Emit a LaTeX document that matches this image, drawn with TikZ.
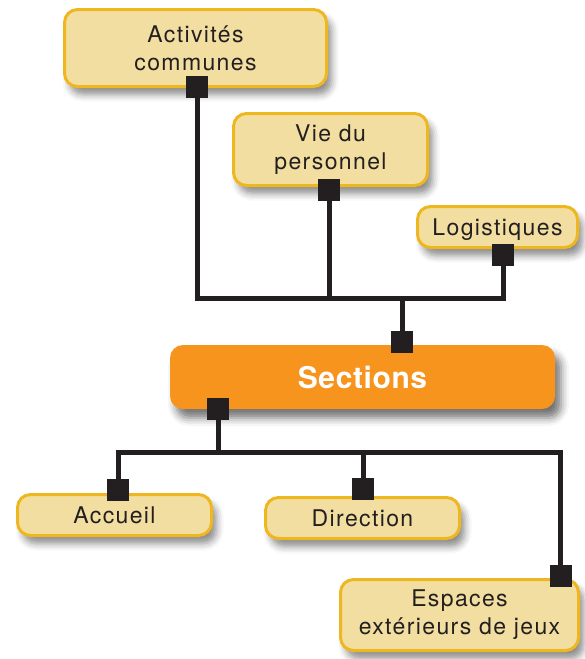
\documentclass[tikz,border=0pt]{standalone}
\usepackage{fontspec}
\setmainfont{TeX Gyre Heros}[LetterSpace=6]
\usetikzlibrary{shadows.blur}
\definecolor{boxtan}{RGB}{242,222,160}
\definecolor{boxgold}{RGB}{238,183,32}
\definecolor{secorange}{RGB}{247,148,30}
\definecolor{linkblack}{RGB}{35,31,32}

\begin{document}
\begin{tikzpicture}[
  x=1pt, y=-1pt,
  box/.style={
    draw=boxgold, line width=3pt, fill=boxtan, rounded corners=13pt,
    inner sep=0pt, align=center, text=linkblack,
    font=\fontsize{23}{28}\selectfont,
    blur shadow={shadow xshift=5pt, shadow yshift=-8pt,
                 shadow blur radius=7pt, shadow opacity=45}
  },
  secbox/.style={
    fill=secorange, rounded corners=13pt, inner sep=0pt,
    text=white, font=\fontsize{30}{34}\selectfont\bfseries\addfontfeature{LetterSpace=2},
    blur shadow={shadow xshift=6pt, shadow yshift=-9pt,
                 shadow blur radius=8pt, shadow opacity=55}
  },
  knob/.style={fill=linkblack, minimum size=22pt, inner sep=0pt},
  link/.style={draw=linkblack, line width=5pt},
]
\useasboundingbox (0,0) rectangle (585,659);

% upper boxes
\node[box, minimum width=262pt, minimum height=77pt] (act)  at (195.5,48)  {Activités\\communes};
\node[box, minimum width=194pt, minimum height=72pt] (vie)  at (330.5,149.5) {Vie du\\personnel};
\node[box, minimum width=160pt, minimum height=41pt, text depth=0pt] (logi) at (497.5,227)  {Logistiques};

% central box
\node[secbox, minimum width=385pt, minimum height=64pt] (sec) at (362.5,377) {Sections};

% lower boxes
\node[box, minimum width=194pt, minimum height=41pt] (acc) at (114.5,515) {Accueil};
\node[box, minimum width=194pt, minimum height=41pt] (dir) at (362.5,518) {Direction};
\node[box, minimum width=238pt, minimum height=71pt] (esp) at (459.5,615) {Espaces\\extérieurs de jeux};

% connector squares
\node[knob] (sqAct)  at (197,87)    {};
\node[knob] (sqVie)  at (329,190)   {};
\node[knob] (sqLogi) at (503,255)   {};
\node[knob] (sqSecT) at (402,342)   {};
\node[knob] (sqSecB) at (218,409)   {};
\node[knob] (sqAcc)  at (118,490)   {};
\node[knob] (sqDir)  at (363,489)   {};
\node[knob] (sqEsp)  at (560.5,576) {};

\coordinate (topbus) at (402,298);
\coordinate (botbus) at (218,452);

% links
\draw[link] (sqAct) |- (topbus) -| (sqLogi);
\draw[link] (sqVie) -- (sqVie |- topbus);
\draw[link] (topbus) -- (sqSecT);

\draw[link] (sqSecB) -- (botbus);
\draw[link] (sqAcc) |- (botbus) -| (sqEsp);
\draw[link] (sqDir) -- (sqDir |- botbus);

\end{tikzpicture}
\end{document}
